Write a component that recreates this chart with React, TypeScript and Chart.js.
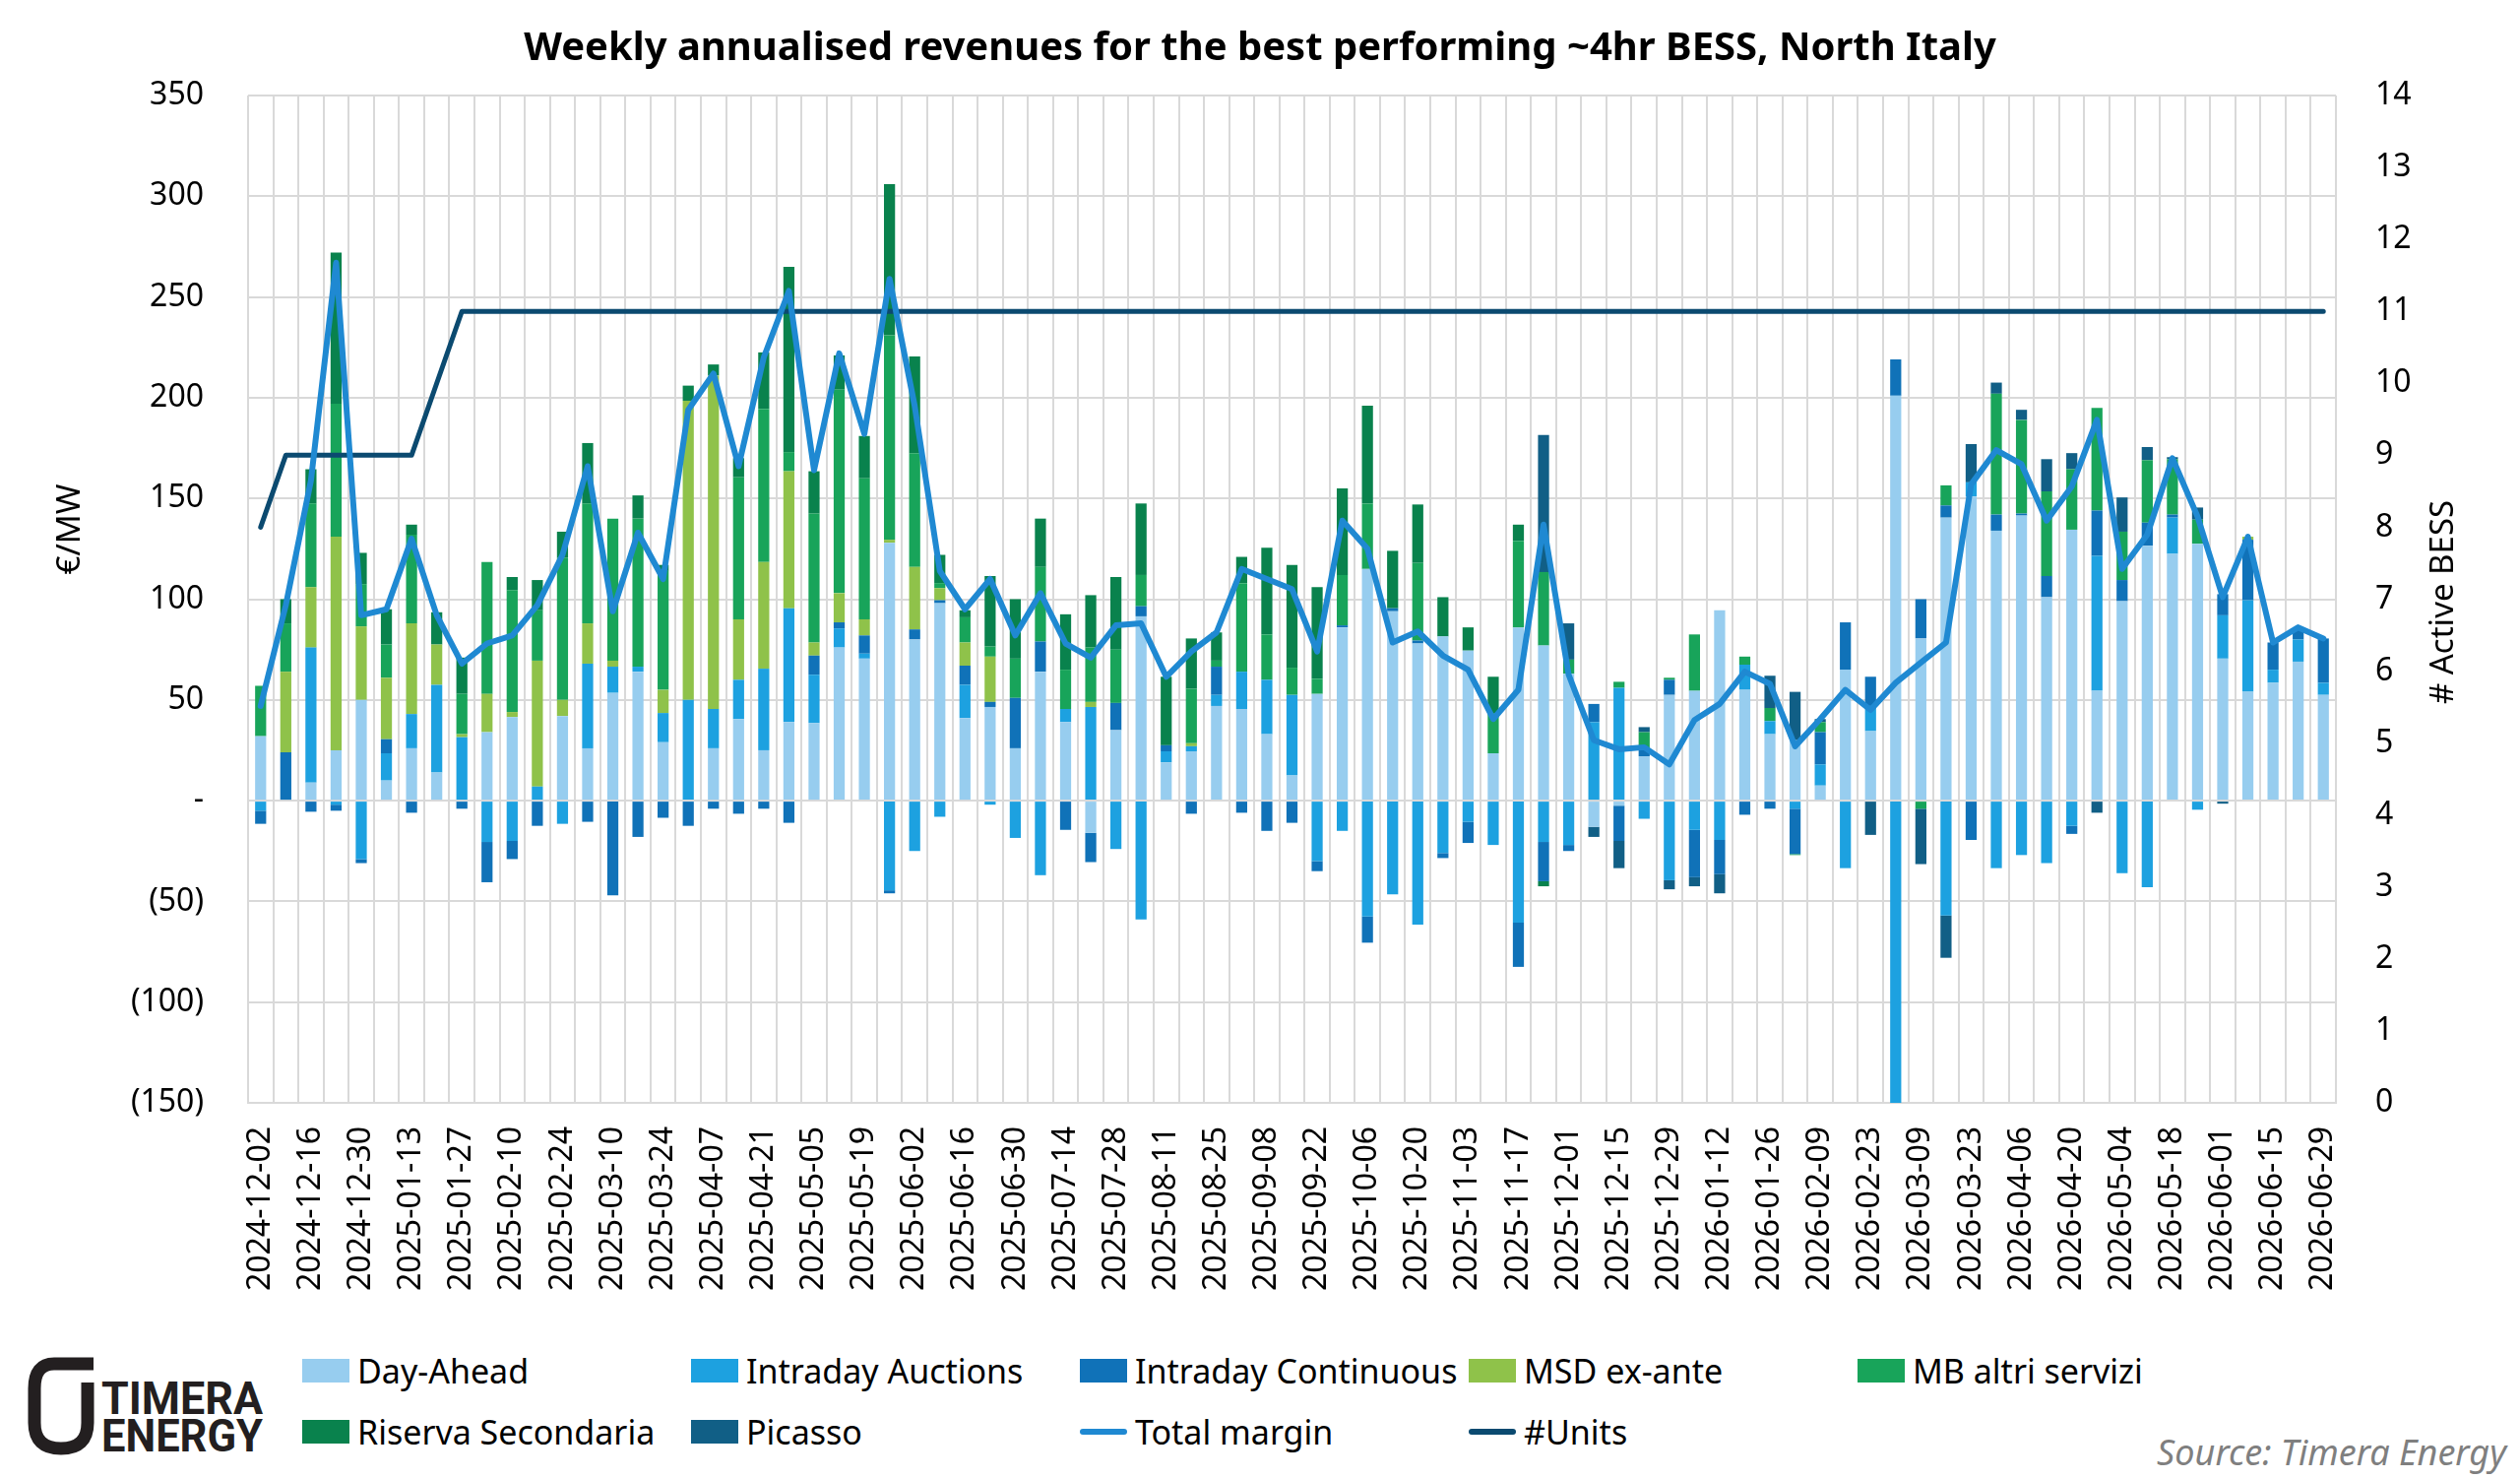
import { useEffect, useRef } from 'react';
import Chart from 'chart.js/auto';

// week starting dates (Monday)
const weeks = [
  '2024-12-02', '2024-12-09', '2024-12-16', '2024-12-23', '2024-12-30',
  '2025-01-06', '2025-01-13', '2025-01-20', '2025-01-27',
  '2025-02-03', '2025-02-10', '2025-02-17', '2025-02-24',
  '2025-03-03', '2025-03-10', '2025-03-17', '2025-03-24', '2025-03-31',
  '2025-04-07', '2025-04-14', '2025-04-21', '2025-04-28',
  '2025-05-05', '2025-05-12', '2025-05-19', '2025-05-26',
  '2025-06-02', '2025-06-09', '2025-06-16', '2025-06-23', '2025-06-30',
  '2025-07-07', '2025-07-14', '2025-07-21', '2025-07-28',
  '2025-08-04', '2025-08-11', '2025-08-18', '2025-08-25',
  '2025-09-01', '2025-09-08', '2025-09-15', '2025-09-22', '2025-09-29',
  '2025-10-06', '2025-10-13', '2025-10-20', '2025-10-27',
  '2025-11-03', '2025-11-10', '2025-11-17', '2025-11-24',
  '2025-12-01', '2025-12-08', '2025-12-15', '2025-12-22', '2025-12-29',
  '2026-01-05', '2026-01-12', '2026-01-19', '2026-01-26',
  '2026-02-02', '2026-02-09', '2026-02-16', '2026-02-23',
  '2026-03-02', '2026-03-09', '2026-03-16', '2026-03-23', '2026-03-30',
  '2026-04-06', '2026-04-13', '2026-04-20', '2026-04-27',
  '2026-05-04', '2026-05-11', '2026-05-18', '2026-05-25',
  '2026-06-01', '2026-06-08', '2026-06-15', '2026-06-22', '2026-06-29',
];

// €/MW annualised, per revenue stream
const dayAhead = [
  32, 0, 9, 25, 50, 10, 26, 14, 0, 34, 41.5, 0, 42, 26, 53.5, 64, 29, 0, 26, 40.5,
  25, 39, 38.5, 76, 70.5, 128, 80, 98, 41, 46.5, 26, 64, 39, -16, 35, 91.5, 19, 24.5, 47, 45.5,
  33, 12.5, 53, 86, 115, 94, 78, 81.5, 74.5, 23.5, 86, 77, 63, -13, -2.5, 22, 52.5, 54.5, 94.5, 55,
  33, 30, 7.5, 65, 34.5, 201, 80.5, 140.5, 151, 134, 141.5, 101, 134.5, 54.5, 99, 126.5, 122.5, 127.5, 70.5, 54,
  58.5, 69, 52.5,
];
const intradayAuctions = [
  -5, 0, 67, -2, -29, 13.5, 17, 43.5, 31.5, -20.5, -20, 7, -11.5, 42, 13, 2.5, 14.5, 50, 19.5, 19.5,
  40.5, 56.5, 24, 9.5, 2.5, -44.5, -25, -8, 16.5, -2, -18.5, -37, 6.5, 46.5, -24, -59, 5.5, 2.5, 5.5, 18.5,
  27, 40, -30, -15, -57.5, -46.5, -61.5, -26, -10.5, -22, -60.5, -20.5, -22, 39, 56, -9, -39.5, -14.5, -19.5, 12.5,
  6.5, -4, 10.5, -33.5, 12.5, -160, 0, -57, 7, -33.5, -27, -31, -12.5, 67, -36, -43, 18, -4.5, 21.5, 45.5,
  6.5, 11, 6,
];
const intradayContinuous = [
  -6.5, 24, -5.5, -3, -2, 7, -6, 0, -4, -20, -9, -12.5, 0, -10.5, -47, -18, -8.5, -12.5, -4, -6.5,
  -4, -11, 9.5, 3, 9, -1.5, 5, 1.5, 9.5, 2.5, 25, 15, -14.5, -14.5, 13.5, 5, 3, -6.5, 14, -6,
  -15, -11, -5, 1, -13, 1.5, 1.5, -2.5, -10.5, 0, -22, -19.5, -3, 9, -17.5, 3, 7.5, -23.5, -17, -7,
  -4, -22.5, 16, 23.5, 14.5, 18, 19.5, 6, -19.5, 8, 1, 10.5, -4, 22.5, 10.5, 11.5, 1.5, 0, 10.5, 30,
  13.5, 6, 22,
];
const msdExAnte = [
  0, 40, 30, 106, 36.5, 30.5, 45, 20, 1.5, 19, 2.5, 62.5, 8, 20, 3, 0, 11.5, 148.5, 165.5, 30,
  53, 68, 6.5, 14.5, 8, 1.5, 31, 6, 11.5, 22.5, 0, 0, 0, 2.5, 0, 0, 0, 1.5, 0, 0,
  0, 0, 0, 0, 0, 0, 0, 0, 0, 0, 0, 0, 0, 0, 0, 0, 0, 0, 0, 0,
  0, 0, 0, 0, 0, 0, 0, 0, 0, 0, 0, 0, 0, 0, 0, 0, 0, 0, 0, 1.5,
  0, 0, 0,
];
const mbAltriServizi = [
  25, 24, 41.5, 66, 21, 16.5, 44, 0, 20, 65.5, 60.5, 25, 70.5, 59.5, 70.5, 73.5, 59, 0, 0, 70.5,
  76, 9.5, 64, 101, 70, 101.5, 56.5, 2.5, 12.5, 5, 19.5, 37, 19.5, 27, 26.5, 15.5, 0, 27, 3, 44,
  22.5, 13.5, 7.5, 25, 32.5, 0, 38.5, 0, 0, 20, 43, 36.5, 7, 0, 3, 9, 1, 28, 0, 4,
  6.5, -0.5, 5, 0, 0, 0, -4, 10, 0, 60, 46.5, 42, 30, 51, 24, 31, 27.5, 12, 0, 0,
  0, 0, 0,
];
const riservaSecondaria = [
  0, 12, 17, 75, 15.5, 17.5, 5, 16, 18, 0, 6.5, 15, 13, 30, 0, 11.5, 3, 7.5, 5.5, 9.5,
  28, 92, 21, 17, 21, 75, 48, 14, 3.5, 35, 29.5, 24, 27.5, 26, 36, 35.5, 34, 25, 14, 13,
  43, 51, 45.5, 43, 48.5, 28.5, 29, 19.5, 11.5, 18, 8, -2.5, 0, 0, 0, 0, 0, 0, 0, 0,
  0, 0, 0, 0, 0, 0, 0, 0, 0, 0, 0, 0, 0, 0, 0, 0, 0, 0, 0, 0,
  0, 0, 0,
];
const picasso = [
  0, 0, 0, 0, 0, 0, 0, 0, 0, 0, 0, 0, 0, 0, 0, 0, 0, 0, 0, 0,
  0, 0, 0, 0, 0, 0, 0, 0, 0, 0, 0, 0, 0, 0, 0, 0, 0, 0, 0, 0,
  0, 0, 0, 0, 0, 0, 0, 0, 0, 0, 0, 68, 18, -5, -13.5, 2.5, -4.5, -4.5, -9.5, 0,
  16, 24, 1.5, 0, -17, 0, -27.5, -21, 19, 5.5, 5, 16, 8, -6, 17, 6.5, 1, 6, -1.5, 0,
  0, 0, 0,
];
const totalMargin = [
  47, 97, 159, 267, 92, 95, 130, 92, 68, 78, 82, 97, 122, 166, 94, 133, 110, 194, 212, 166,
  220, 253, 164, 222, 182, 259, 196, 114, 95, 110, 82, 103, 78, 71, 87, 88, 61.5, 74, 83.5, 115,
  110, 105, 74, 139, 125, 78.5, 84, 72, 65, 40.5, 55, 137, 62.5, 30, 25.5, 26.5, 18, 40, 48, 64,
  58, 27, 40.5, 55, 45, 58.5, 68.5, 78.5, 157, 174, 167, 139, 156, 189, 115, 132, 170, 141, 101, 131,
  78.5, 86, 80.5,
];
// number of active BESS units (right axis)
const activeUnits = [
  8, 9, 9, 9, 9, 9, 9, 10, 11, 11, 11, 11, 11, 11, 11, 11, 11, 11, 11, 11,
  11, 11, 11, 11, 11, 11, 11, 11, 11, 11, 11, 11, 11, 11, 11, 11, 11, 11, 11, 11,
  11, 11, 11, 11, 11, 11, 11, 11, 11, 11, 11, 11, 11, 11, 11, 11, 11, 11, 11, 11,
  11, 11, 11, 11, 11, 11, 11, 11, 11, 11, 11, 11, 11, 11, 11, 11, 11, 11, 11, 11,
  11, 11, 11,
];

const barSeries = [
  { label: 'Day-Ahead', data: dayAhead, color: '#97CDEF' },
  { label: 'Intraday Auctions', data: intradayAuctions, color: '#1DA1E0' },
  { label: 'Intraday Continuous', data: intradayContinuous, color: '#1072B8' },
  { label: 'MSD ex-ante', data: msdExAnte, color: '#8FC24A' },
  { label: 'MB altri servizi', data: mbAltriServizi, color: '#18A45A' },
  { label: 'Riserva Secondaria', data: riservaSecondaria, color: '#09824D' },
  { label: 'Picasso', data: picasso, color: '#115F86' },
];
const TOTAL_COLOR = '#1F89D2';
const UNITS_COLOR = '#0B4A70';

const legendItems = [
  ...barSeries.map((s) => ({ label: s.label, color: s.color, line: false })),
  { label: 'Total margin', color: TOTAL_COLOR, line: true },
  { label: '#Units', color: UNITS_COLOR, line: true },
];

const FONT = '"Noto Sans", "Open Sans", sans-serif';
const GRID = '#D9D9D9';

const fmtEuro = (v: number) => (v === 0 ? '-' : v < 0 ? `(${-v})` : `${v}`);

// axis titles drawn by hand: both read bottom-to-top like the original
const axisTitles = {
  id: 'axisTitles',
  afterDraw(chart: any) {
    const { ctx, chartArea } = chart;
    const mid = (chartArea.top + chartArea.bottom) / 2;
    const put = (text: string, x: number, y: number) => {
      ctx.save();
      ctx.font = `33px ${FONT}`;
      ctx.fillStyle = '#000';
      ctx.textAlign = 'center';
      ctx.textBaseline = 'middle';
      ctx.translate(x, y);
      ctx.rotate(-Math.PI / 2);
      ctx.fillText(text, 0, 0);
      ctx.restore();
    };
    put('€/MW', 72, mid - 71);
    put('# Active BESS', chartArea.right + 110, mid + 3);
  },
};

function RevenueChart() {
  const chartRef = useRef<HTMLCanvasElement>(null);

  useEffect(() => {
    if (!chartRef.current) return;
    const chart = new Chart(chartRef.current, {
      type: 'bar',
      data: {
        labels: weeks,
        datasets: [
          {
            type: 'line',
            label: 'Total margin',
            data: totalMargin,
            borderColor: TOTAL_COLOR,
            backgroundColor: TOTAL_COLOR,
            borderWidth: 6,
            borderJoinStyle: 'round',
            borderCapStyle: 'round',
            pointRadius: 0,
            tension: 0,
            yAxisID: 'y',
            stack: 'total',
            order: 0,
          },
          {
            type: 'line',
            label: '#Units',
            data: activeUnits,
            borderColor: UNITS_COLOR,
            backgroundColor: UNITS_COLOR,
            borderWidth: 5,
            borderJoinStyle: 'round',
            borderCapStyle: 'round',
            pointRadius: 0,
            tension: 0,
            yAxisID: 'y1',
            order: 1,
          },
          ...barSeries.map((s) => ({
            type: 'bar' as const,
            label: s.label,
            data: s.data,
            backgroundColor: s.color,
            borderWidth: 0,
            barPercentage: 0.44,
            categoryPercentage: 1,
            yAxisID: 'y',
            stack: 'revenue',
            order: 2,
          })),
        ],
      } as any,
      options: {
        responsive: false,
        animation: false,
        layout: { padding: 0 },
        plugins: {
          legend: { display: false },
          tooltip: { enabled: false },
          title: {
            display: true,
            text: 'Weekly annualised revenues for the best performing ~4hr BESS, North Italy',
            color: '#000',
            font: { family: FONT, size: 40, weight: 'bold' },
            lineHeight: 1.2,
            padding: { top: 26, bottom: 23 },
          },
        },
        scales: {
          x: {
            stacked: true,
            offset: true,
            grid: { color: GRID, lineWidth: 2, drawTicks: false, offset: true },
            border: { color: GRID, width: 2 },
            ticks: {
              autoSkip: false,
              minRotation: 90,
              maxRotation: 90,
              padding: 24,
              color: '#000',
              font: { family: FONT, size: 32 },
              callback: (_v: any, i: number) => (i % 2 === 0 ? weeks[i] : ''),
            },
            afterFit: (s: any) => {
              s.height = 220;
            },
          },
          y: {
            stacked: true,
            position: 'left',
            min: -150,
            max: 350,
            grid: { color: GRID, lineWidth: 2, drawTicks: false },
            border: { display: false },
            ticks: {
              stepSize: 50,
              padding: 45,
              color: '#000',
              font: { family: FONT, size: 32 },
              callback: (v: any) => fmtEuro(Number(v)),
            },
            afterFit: (s: any) => {
              s.width = 252;
            },
          },
          y1: {
            position: 'right',
            min: 0,
            max: 14,
            grid: { display: false, drawTicks: false },
            border: { display: false },
            ticks: {
              stepSize: 1,
              padding: 40,
              color: '#000',
              font: { family: FONT, size: 32 },
            },
            afterFit: (s: any) => {
              s.width = 187;
            },
          },
        },
      } as any,
      plugins: [axisTitles],
    });
    return () => chart.destroy();
  }, []);

  return <canvas ref={chartRef} width={2560} height={1340} style={{ display: 'block' }} />;
}

function Logo() {
  return (
    <svg width={300} height={130} style={{ position: 'absolute', left: 0, top: 1360 }}>
      <path
        d="M 95 25 L 55 25 Q 35 25 35 50 L 35 85 Q 35 111 62 111 Q 89 111 89 85 L 89 44"
        fill="none"
        stroke="#231F20"
        strokeWidth={13}
      />
      <text x={103} y={76} fontFamily="Roboto, sans-serif" fontWeight={700} fontSize={46} fill="#231F20" textLength={164} lengthAdjust="spacingAndGlyphs">
        TIMERA
      </text>
      <text x={103} y={114} fontFamily="Roboto, sans-serif" fontWeight={700} fontSize={46} fill="#231F20" textLength={164} lengthAdjust="spacingAndGlyphs">
        ENERGY
      </text>
    </svg>
  );
}

export default function App() {
  useEffect(() => {
    document.body.style.margin = '0';
  }, []);

  return (
    <div style={{ position: 'relative', width: 2560, height: 1502, background: '#fff', overflow: 'hidden', fontFamily: FONT }}>
      <RevenueChart />
      <Logo />
      <div
        style={{
          position: 'absolute',
          left: 307,
          top: 1361,
          display: 'grid',
          gridTemplateColumns: 'repeat(5, 395px)',
          gridAutoRows: '62px',
        }}
      >
        {legendItems.map((it) => (
          <div key={it.label} style={{ display: 'flex', alignItems: 'center', fontSize: 34, color: '#000', whiteSpace: 'nowrap' }}>
            <span
              style={{
                display: 'inline-block',
                width: 48,
                height: it.line ? 6 : 24,
                borderRadius: it.line ? 3 : 0,
                background: it.color,
                marginRight: 8,
              }}
            />
            {it.label}
          </div>
        ))}
      </div>
      <div
        style={{
          position: 'absolute',
          right: 14,
          top: 1450,
          fontSize: 36,
          fontStyle: 'italic',
          color: '#7F7F7F',
        }}
      >
        Source: Timera Energy
      </div>
    </div>
  );
}
